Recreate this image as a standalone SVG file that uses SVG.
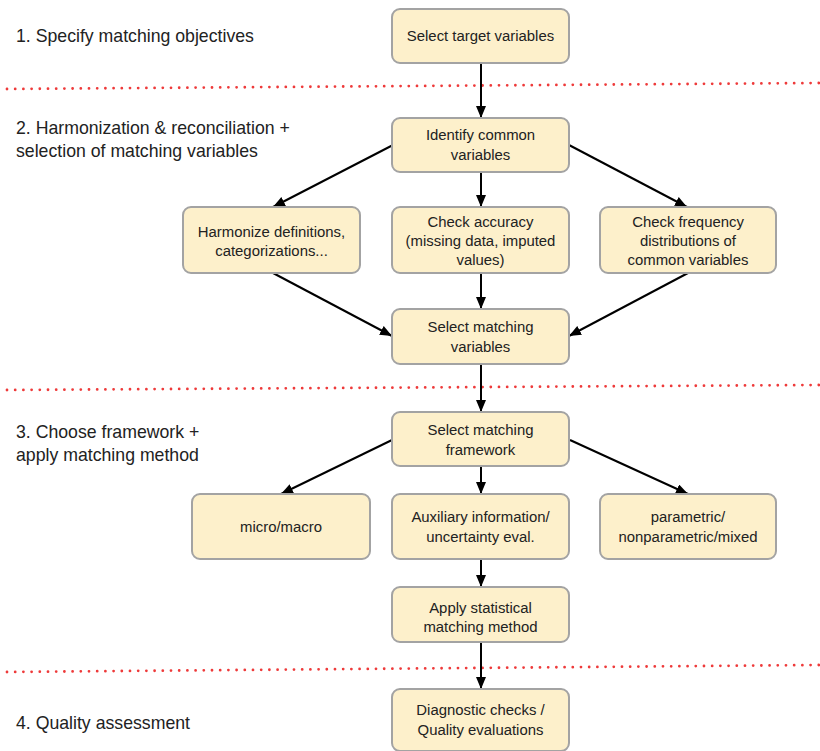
<svg xmlns="http://www.w3.org/2000/svg" width="820" height="751" viewBox="0 0 820 751">
<style>
.box{fill:#fdf0cb;stroke:#a3a3a3;stroke-width:2}
.t{font-family:"Liberation Sans",Arial,sans-serif;font-size:14.9px;fill:#222;text-anchor:middle}
.lbl{font-family:"Liberation Sans",Arial,sans-serif;font-size:17.7px;fill:#222}
.sep{fill:none;stroke:#ee3a3a;stroke-width:2.8;stroke-linecap:round;stroke-dasharray:0 8.2}
.c{fill:none;stroke:#000;stroke-width:2;marker-end:url(#ah)}
</style>
<defs>
<marker id="ah" viewBox="0 0 12 10" refX="12" refY="5" markerWidth="12" markerHeight="10" markerUnits="userSpaceOnUse" orient="auto">
<path d="M0,0 L12,5 L0,10 Z" fill="#000"/>
</marker>
</defs>
<rect width="820" height="751" fill="#fff"/>
<g id="separators">
<path class="sep" d="M7,89 L820,83"/>
<path class="sep" d="M7,390 L820,385"/>
<path class="sep" d="M7,672 L820,665"/>
</g>
<g id="stage-labels">
<text class="lbl" x="16" y="42">1. Specify matching objectives</text>
<text class="lbl" x="16" y="134">2. Harmonization &amp; reconciliation +</text>
<text class="lbl" x="16" y="157">selection of matching variables</text>
<text class="lbl" x="16" y="438">3. Choose framework +</text>
<text class="lbl" x="16" y="461">apply matching method</text>
<text class="lbl" x="16" y="729">4. Quality assessment</text>
</g>
<g id="connectors">
<path class="c" d="M481,63 L481,118"/>
<path class="c" d="M393,145 L273,207"/>
<path class="c" d="M481,172 L481,207"/>
<path class="c" d="M569,145 L687,207"/>
<path class="c" d="M273,273 L392,336"/>
<path class="c" d="M481,273 L481,309"/>
<path class="c" d="M688,273 L569,336"/>
<path class="c" d="M481,364 L481,412"/>
<path class="c" d="M392,440 L281,494"/>
<path class="c" d="M481,466 L481,494"/>
<path class="c" d="M570,440 L688,494"/>
<path class="c" d="M481,559 L481,587"/>
<path class="c" d="M481,642 L481,689"/>
</g>
<g id="n-select-target">
<rect class="box" x="392" y="9" width="177" height="54" rx="8"/>
<text class="t" x="480.5" y="41">Select target variables</text>
</g>
<g id="n-identify-common">
<rect class="box" x="392" y="118" width="177" height="54" rx="8"/>
<text class="t" x="480.5" y="140">Identify common</text>
<text class="t" x="480.5" y="159.5">variables</text>
</g>
<g id="n-harmonize">
<rect class="box" x="183" y="207" width="177" height="66" rx="8"/>
<text class="t" x="271.5" y="236.5">Harmonize definitions,</text>
<text class="t" x="271.5" y="256">categorizations...</text>
</g>
<g id="n-check-accuracy">
<rect class="box" x="392" y="207" width="177" height="66" rx="8"/>
<text class="t" x="480.5" y="227">Check accuracy</text>
<text class="t" x="480.5" y="246">(missing data, imputed</text>
<text class="t" x="480.5" y="265">values)</text>
</g>
<g id="n-check-frequency">
<rect class="box" x="600" y="207" width="176" height="66" rx="8"/>
<text class="t" x="688" y="227">Check frequency</text>
<text class="t" x="688" y="246">distributions of</text>
<text class="t" x="688" y="265">common variables</text>
</g>
<g id="n-select-matching-vars">
<rect class="box" x="392" y="309" width="177" height="55" rx="8"/>
<text class="t" x="480.5" y="332">Select matching</text>
<text class="t" x="480.5" y="351.5">variables</text>
</g>
<g id="n-select-framework">
<rect class="box" x="392" y="412" width="177" height="54" rx="8"/>
<text class="t" x="480.5" y="435">Select matching</text>
<text class="t" x="480.5" y="454.5">framework</text>
</g>
<g id="n-micro-macro">
<rect class="box" x="192" y="494" width="178" height="65" rx="8"/>
<text class="t" x="281" y="532">micro/macro</text>
</g>
<g id="n-auxiliary">
<rect class="box" x="392" y="494" width="177" height="65" rx="8"/>
<text class="t" x="480.5" y="522">Auxiliary information/</text>
<text class="t" x="480.5" y="541.5">uncertainty eval.</text>
</g>
<g id="n-parametric">
<rect class="box" x="600" y="494" width="176" height="65" rx="8"/>
<text class="t" x="688" y="522">parametric/</text>
<text class="t" x="688" y="541.5">nonparametric/mixed</text>
</g>
<g id="n-apply-method">
<rect class="box" x="392" y="587" width="177" height="55" rx="8"/>
<text class="t" x="480.5" y="612.5">Apply statistical</text>
<text class="t" x="480.5" y="632">matching method</text>
</g>
<g id="n-diagnostic">
<rect class="box" x="392" y="689" width="177" height="62" rx="8"/>
<text class="t" x="480.5" y="715">Diagnostic checks /</text>
<text class="t" x="480.5" y="735">Quality evaluations</text>
</g>
</svg>
